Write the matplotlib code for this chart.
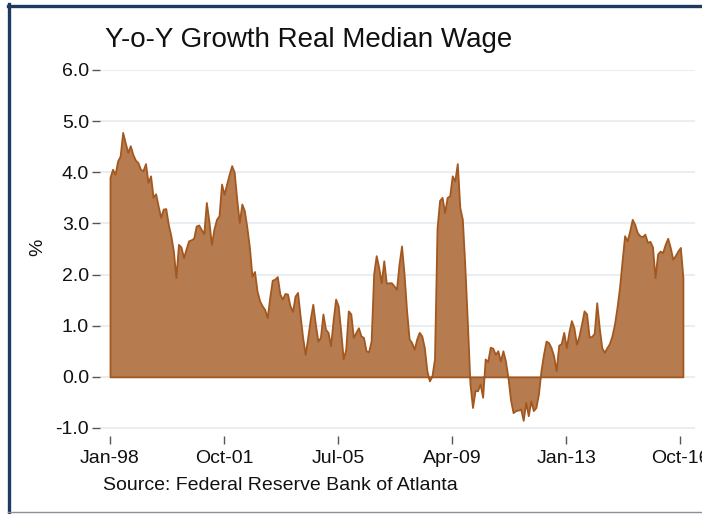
import matplotlib
matplotlib.use("Agg")
import matplotlib.pyplot as plt
from matplotlib.lines import Line2D
import numpy as np

# Monthly Y-o-Y growth of real median wage, Jan-1998 onward (%)
wage_growth = [
    3.90, 4.06, 3.96, 4.22, 4.32, 4.78, 4.58, 4.39, 4.52, 4.35, 4.24, 4.19,   # 1998
    4.06, 4.03, 4.17, 3.80, 3.93, 3.51, 3.58, 3.34, 3.12, 3.28, 3.29, 2.98,   # 1999
    2.76, 2.46, 1.94, 2.59, 2.54, 2.33, 2.50, 2.66, 2.68, 2.71, 2.95, 2.97,   # 2000
    2.88, 2.80, 3.41, 3.05, 2.59, 2.89, 3.08, 3.15, 3.77, 3.57, 3.77, 3.96,   # 2001
    4.13, 4.00, 3.47, 3.02, 3.38, 3.25, 2.92, 2.53, 1.97, 2.06, 1.68, 1.49,   # 2002
    1.39, 1.32, 1.16, 1.55, 1.89, 1.91, 1.96, 1.62, 1.52, 1.63, 1.62, 1.39,   # 2003
    1.28, 1.58, 1.65, 1.19, 0.77, 0.44, 0.77, 1.13, 1.42, 1.03, 0.70, 0.77,   # 2004
    1.23, 0.93, 0.87, 0.61, 1.10, 1.52, 1.39, 0.90, 0.35, 0.54, 1.29, 1.23,   # 2005
    0.77, 0.87, 0.96, 0.80, 0.77, 0.51, 0.49, 0.70, 2.01, 2.37, 2.14, 1.84,   # 2006
    2.27, 1.83, 1.84, 1.84, 1.78, 1.71, 2.20, 2.56, 2.01, 1.29, 0.74, 0.67,   # 2007
    0.54, 0.74, 0.87, 0.80, 0.57, 0.12, -0.08, 0.02, 0.35, 2.90, 3.45, 3.51,  # 2008
    3.21, 3.51, 3.54, 3.93, 3.83, 4.17, 3.31, 3.08, 2.14, 1.03, -0.14, -0.60, # 2009
    -0.27, -0.27, -0.14, -0.40, 0.35, 0.30, 0.58, 0.56, 0.44, 0.51, 0.31, 0.51,  # 2010
    0.31, -0.02, -0.45, -0.70, -0.66, -0.65, -0.63, -0.85, -0.50, -0.76, -0.47, -0.66,  # 2011
    -0.60, -0.34, 0.12, 0.44, 0.70, 0.67, 0.57, 0.41, 0.12, 0.62, 0.65, 0.87,  # 2012
    0.57, 0.87, 1.10, 0.96, 0.64, 0.80, 1.03, 1.29, 1.23, 0.78, 0.79, 0.85,   # 2013
    1.45, 0.96, 0.57, 0.48, 0.57, 0.65, 0.80, 1.03, 1.36, 1.75, 2.27, 2.76,   # 2014
    2.66, 2.85, 3.08, 2.98, 2.82, 2.76, 2.74, 2.79, 2.63, 2.65, 2.54, 1.94,   # 2015
    2.40, 2.46, 2.43, 2.59, 2.71, 2.53, 2.30, 2.37, 2.46, 2.53, 1.94,         # 2016
]

tick_months = [0, 45, 90, 135, 180, 225]
tick_labels = ["Jan-98", "Oct-01", "Jul-05", "Apr-09", "Jan-13", "Oct-16"]
y_ticks = [-1.0, 0.0, 1.0, 2.0, 3.0, 4.0, 5.0, 6.0]

title = "Y-o-Y Growth Real Median Wage"
source = "Source: Federal Reserve Bank of Atlanta"

plt.rcParams['font.family'] = ['Liberation Sans', 'DejaVu Sans']

W, H = 702, 514
fig = plt.figure(figsize=(W / 100, H / 100), dpi=100)
fig.patch.set_facecolor("white")

# axes: left x=100, right x=695, top y=70, bottom y=436
ax = fig.add_axes([100 / W, 1 - 436 / H, (695 - 100) / W, (436 - 70) / H])

x = np.arange(len(wage_growth))
y = np.array(wage_growth)
ax.fill_between(x, 0, y, facecolor="#b67b4f", edgecolor="#a3581f", linewidth=1.3, zorder=3)

ppm = 2.535  # pixels per month
ax.set_xlim(-10 / ppm, (695 - 110) / ppm)
upp = 51.14  # pixels per unit
ax.set_ylim(-1.0 - 8 / upp, 6.0)

ax.set_xticks(tick_months)
ax.set_xticklabels(tick_labels)
ax.set_yticks(y_ticks)
ax.set_yticklabels([f"{v:.1f}" for v in y_ticks])

for s in ax.spines.values():
    s.set_visible(False)

ax.yaxis.grid(True, color="#e8eef1", linewidth=1.5, zorder=0)
ax.xaxis.grid(False)
ax.set_axisbelow(True)

ax.tick_params(axis="y", length=6, width=1, color="#555555", pad=2, labelsize=14, labelcolor="#111111")
ax.tick_params(axis="x", length=6, width=1, color="#555555", pad=4, labelsize=14, labelcolor="#111111")

fig.text(105 / W, 1 - 40 / H, title, fontsize=20, ha="left", va="center", color="#111111")
fig.text(103 / W, 1 - 485 / H, source, fontsize=14, ha="left", va="center", color="#111111")
fig.text(38 / W, 1 - 247 / H, "%", fontsize=14, rotation=90, ha="center", va="center", color="#111111")

# frame lines
navy = "#1f3a60"
fig.add_artist(Line2D([8.5 / W, 8.5 / W], [0, 1 - 4 / H], color=navy, linewidth=2.4, transform=fig.transFigure))
fig.add_artist(Line2D([7.5 / W, 1], [1 - 5.5 / H, 1 - 5.5 / H], color=navy, linewidth=2.4, transform=fig.transFigure))
fig.add_artist(Line2D([8 / W, 1], [1 - 511.5 / H, 1 - 511.5 / H], color="#8a9099", linewidth=1.0, transform=fig.transFigure))

fig.savefig("out.png", dpi=100)
